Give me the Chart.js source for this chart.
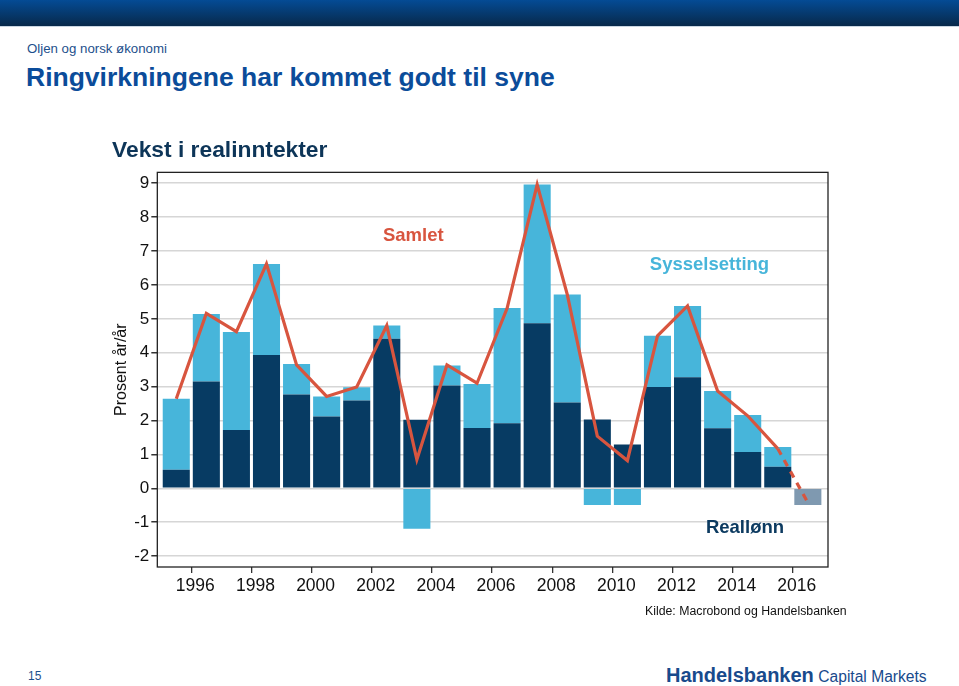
<!DOCTYPE html>
<html><head><meta charset="utf-8">
<script src="https://cdn.jsdelivr.net/npm/chart.js@4/dist/chart.umd.min.js"></script>
<style>
body{margin:0;width:959px;height:686px;position:relative;background:#fff;font-family:"Liberation Sans",Arial,sans-serif;overflow:hidden}
#band{position:absolute;left:0;top:0;width:959px;height:26px;background:linear-gradient(#044b95,#08294a);border-bottom:1px solid #c9d6e3}
#sub{position:absolute;left:27px;top:41px;font-size:13.25px;color:#1d4f8c}
#title{position:absolute;left:26px;top:62px;font-size:26.5px;font-weight:bold;color:#0b4c9a}
#wrap{position:absolute;left:98px;top:128px;width:742px;height:482px}
#src{position:absolute;left:645px;top:604px;font-size:12.3px;color:#111}
#page{position:absolute;left:28px;top:669px;font-size:12px;color:#1d4f8c}
#logo{position:absolute;left:666px;top:664px;color:#184a8c;white-space:nowrap}
#logo b{font-size:20px}
#logo span{font-size:15.6px}
</style></head>
<body>
<div id="band"></div>
<div id="sub">Oljen og norsk økonomi</div>
<div id="title">Ringvirkningene har kommet godt til syne</div>
<div id="wrap"><canvas id="c"></canvas></div>
<div id="src">Kilde: Macrobond og Handelsbanken</div>
<div id="page">15</div>
<div id="logo"><b>Handelsbanken</b> <span>Capital Markets</span></div>
<script>
const years = [1995,1996,1997,1998,1999,2000,2001,2002,2003,2004,2005,2006,2007,2008,2009,2010,2011,2012,2013,2014,2015,2016];
const realLonn = [0.55,3.15,1.72,3.93,2.77,2.12,2.59,4.41,2.02,3.03,1.78,1.92,4.87,2.53,2.03,1.29,2.99,3.28,1.77,1.07,0.64,null];
const sysselsetting = [2.09,1.99,2.89,2.69,0.90,0.59,0.39,0.39,-1.19,0.59,1.30,3.40,4.09,3.19,-0.49,-0.49,1.51,2.10,1.10,1.09,0.58,null];
const prognose = [null,null,null,null,null,null,null,null,null,null,null,null,null,null,null,null,null,null,null,null,null,-0.49];
const samlet = [2.64,5.16,4.62,6.62,3.64,2.71,2.99,4.80,0.85,3.64,3.10,5.31,8.96,5.72,1.54,0.82,4.50,5.38,2.87,2.14,1.17,-0.42];
const xTicks = [1996,1998,2000,2002,2004,2006,2008,2010,2012,2014,2016];
const yTicks = [-2,-1,0,1,2,3,4,5,6,7,8,9];

const pts = arr => years.map((yr,i) => ({x: yr + 0.5, y: arr[i]})).filter(p => p.y !== null);

const labels = [
  {text:'Samlet', x:2003.38, y:7.44, color:'#d8553f'},
  {text:'Sysselsetting', x:2013.23, y:6.59, color:'#47b5da'},
  {text:'Reallønn', x:2014.41, y:-1.18, color:'#0c3a60'}
];

const framePlugin = {
  id:'frame',
  afterDatasetsDraw(chart){
    const {ctx, chartArea:a, scales} = chart;
    ctx.save();
    ctx.font = 'bold 18.5px "Liberation Sans", Arial, sans-serif';
    ctx.textAlign = 'center'; ctx.textBaseline = 'middle';
    labels.forEach(l => {
      ctx.fillStyle = l.color;
      ctx.fillText(l.text, scales.x.getPixelForValue(l.x), scales.y.getPixelForValue(l.y));
    });
    ctx.strokeStyle = '#222'; ctx.lineWidth = 1.3;
    ctx.strokeRect(a.left, a.top, a.right - a.left, a.bottom - a.top);
    ctx.restore();
  }
};

new Chart(document.getElementById('c'), {
  data: {
    datasets: [
      {type:'line', label:'Samlet', data: pts(samlet), borderColor:'#d8553f', borderWidth:3.2, pointRadius:0, tension:0, order:0, stack:'line',
       segment:{borderDash: ctx => ctx.p1DataIndex === years.length - 1 ? [7,6] : undefined}},
      {type:'bar', label:'Reallønn', data: pts(realLonn), backgroundColor:'#073b63', order:1, stack:'s'},
      {type:'bar', label:'Sysselsetting', data: pts(sysselsetting), backgroundColor:'#47b5da', order:1, stack:'s'},
      {type:'bar', label:'Prognose', data: pts(prognose), backgroundColor:'#7f99b0', order:1, stack:'s'}
    ]
  },
  options: {
    responsive:true, maintainAspectRatio:false, animation:false,
    layout:{padding:{left:14, right:12, top:8, bottom:10}},
    datasets:{bar:{barPercentage:0.9, categoryPercentage:1}},
    plugins:{
      legend:{display:false}, tooltip:{enabled:false},
      title:{display:true, text:'Vekst i realinntekter', align:'start', color:'#0d3558',
             font:{family:'"Liberation Sans", Arial, sans-serif', size:22.8, weight:'bold'}, padding:{top:1, bottom:8}}
    },
    scales:{
      x:{type:'linear', stacked:true, offset:false, min:1994.87, max:2017.17,
         afterBuildTicks: s => { s.ticks = xTicks.map(v => ({value:v})); },
         grid:{offset:false, drawOnChartArea:false, tickLength:6, tickColor:'#333', lineWidth:1.3},
         border:{display:false},
         ticks:{color:'#111', font:{family:'"Liberation Sans", Arial, sans-serif', size:17.5}, padding:3, labelOffset:4, maxRotation:0, callback: v => String(v)}},
      y:{stacked:true, min:-2.32, max:9.32,
         afterBuildTicks: s => { s.ticks = yTicks.map(v => ({value:v})); },
         grid:{color:'#d6d6d6', lineWidth:1.5, tickLength:6, tickColor:'#333'},
         border:{display:false},
         ticks:{color:'#111', font:{family:'"Liberation Sans", Arial, sans-serif', size:17}, padding:2},
         title:{display:true, text:'Prosent år/år', color:'#111', font:{family:'"Liberation Sans", Arial, sans-serif', size:16}, padding:{top:0, bottom:1}}}
    }
  },
  plugins:[framePlugin]
});
</script>
</body></html>
